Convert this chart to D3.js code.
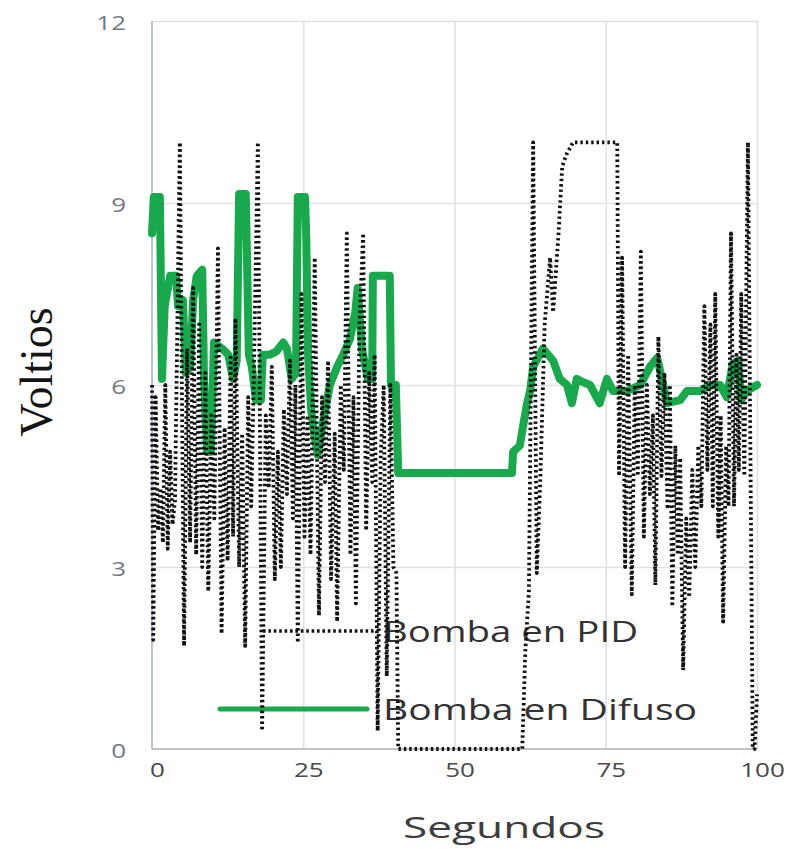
<!DOCTYPE html>
<html><head><meta charset="utf-8">
<script src="https://cdn.jsdelivr.net/npm/d3@7"></script>
<style>body{margin:0;background:#fff;} svg{display:block;}</style>
</head><body><svg id="c" width="790" height="849"></svg>
<script>
const xTicks = [0, 25, 50, 75, 100];
const yTicks = [0, 3, 6, 9, 12];
const seriesNames = ["Bomba en PID", "Bomba en Difuso"];
const xTitle = "Segundos";
const yTitle = "Voltios";

const difusoT = [0,0.3,1.3,1.65,2.1,3.0,4.0,4.3,5.1,5.6,6.3,6.8,7.4,8.3,8.6,9.1,9.75,10.25,11.6,12.6,13.4,14.0,14.4,15.5,16.0,16.5,17.2,18.0,18.3,19.5,20.5,21.7,22.3,23.1,23.8,24.1,25.3,25.5,25.8,26.3,26.8,27.4,28.3,29.4,30.6,31.6,32.7,33.6,34.0,34.7,35.7,36.4,36.5,39.3,39.5,40.3,40.7,59.5,59.7,60.8,61.3,62.0,62.5,63.0,64.6,66.3,67.4,68.6,69.4,70.2,71.2,72.4,74.0,75.2,76.2,78.5,80.7,82.3,83.5,84.5,85.1,87.3,88.4,90.6,92.2,93.9,95.0,96.0,96.9,97.4,98.3,100];
const difusoV = [8.5,9.1,9.1,6.1,7.3,7.8,7.8,7.3,7.4,6.2,6.3,7.4,7.8,7.9,6.1,4.9,4.9,6.7,6.6,6.5,6.1,6.4,9.15,9.15,6.5,6.3,5.75,5.75,6.5,6.5,6.55,6.7,6.6,6.1,6.2,9.1,9.1,8.4,6.5,5.6,5.2,4.85,5.4,6.0,6.3,6.5,6.75,7.2,7.6,6.6,6.1,6.1,7.8,7.8,6.0,6.0,4.55,4.55,4.9,5.0,5.3,5.7,5.9,6.3,6.6,6.4,6.1,6.0,5.7,6.1,6.05,6.0,5.7,6.1,5.9,5.9,6.0,6.3,6.45,6.0,5.7,5.75,5.9,5.9,6.0,6.0,5.8,6.35,6.4,5.75,5.9,6.0];

const pidT = [0,0.2,0.6,1.0,1.4,1.8,2.2,2.6,3.0,3.4,
  3.8,4.6,5.3,5.8,6.3,6.8,7.3,7.8,8.3,8.8,
  9.3,9.8,10.3,10.9,11.5,12.0,12.5,13.0,13.4,13.8,
  14.4,14.9,15.4,15.9,16.4,16.8,17.5,18.2,18.8,19.3,
  19.8,20.3,20.8,21.3,21.8,22.3,22.8,23.3,23.7,24.1,
  24.7,25.2,25.7,26.2,26.9,27.6,28.1,28.6,29.1,29.6,
  30.2,30.6,31.2,31.7,32.2,32.8,33.3,33.7,34.3,34.9,
  35.4,35.9,36.4,36.8,37.3,37.8,38.3,38.8,39.4,39.9,
  40.4,40.7,61.2,61.7,62.3,63.0,63.6,64.2,64.9,65.8,
  66.3,67.2,67.8,68.5,69.6,76.9,77.2,77.7,78.2,78.7,
  79.3,79.8,80.3,80.8,81.3,81.8,82.3,82.8,83.2,83.7,
  84.2,84.7,85.2,85.6,86.0,86.5,86.9,87.3,87.8,88.3,
  88.8,89.3,89.8,90.3,90.8,91.3,91.8,92.3,92.7,93.1,
  93.6,94.0,94.4,94.9,95.3,95.7,96.2,96.6,97.0,97.4,
  97.9,98.5,99.3,99.6,100];
const pidV = [6.0,1.8,5.8,3.6,4.3,3.4,6.0,3.3,4.9,3.7,
  4.1,10.0,1.7,6.6,3.4,7.6,3.2,7.0,3.0,6.2,
  2.6,5.5,3.8,8.25,1.9,5.3,3.1,6.5,3.5,7.1,
  3.0,5.2,1.7,5.8,4.0,6.0,10.0,0.3,5.5,4.3,
  6.3,2.8,4.9,3.0,5.6,4.2,6.4,3.8,6.0,1.75,
  7.5,3.5,5.5,3.2,8.1,2.2,5.8,4.4,6.4,2.8,
  5.2,2.1,6.0,4.6,8.5,3.2,5.8,2.4,7.0,8.5,
  3.6,6.2,4.4,6.5,0.3,4.8,6.0,1.2,6.0,3.0,
  2.9,0,0,1.6,2.6,10.0,2.9,4.5,7.0,8.1,
  7.2,8.5,9.6,9.8,10.0,10.0,4.5,8.1,3.0,6.5,
  2.55,6.0,4.5,8.2,3.5,6.0,4.2,5.5,2.7,6.8,
  4.5,6.2,4.0,6.0,2.35,5.0,3.2,4.8,1.3,3.8,
  2.5,4.6,3.0,5.0,4.0,7.3,4.6,7.0,4.0,7.5,
  3.5,5.5,2.1,5.0,4.0,8.5,4.0,6.5,4.6,7.5,
  4.5,10.0,0.0,0.0,0.9];

const GREEN = "#17a94b";
const svg = d3.select("#c");
const x = d3.scaleLinear().domain([0, 100]).range([152, 757]);
const y = d3.scaleLinear().domain([0, 12]).range([749, 21]);

function stretch(sel, f) {
  sel.each(function () {
    const w = this.getComputedTextLength();
    d3.select(this).attr("textLength", w * f).attr("lengthAdjust", "spacingAndGlyphs");
  });
}

// grid
const gx = svg.append("g").attr("transform", "translate(0,749)")
  .call(d3.axisBottom(x).tickValues(xTicks.filter(d => d > 0)).tickSize(-728).tickFormat(""));
gx.select(".domain").remove();
gx.selectAll("line").attr("stroke", "#e1e1e1").attr("stroke-width", 1.6);
const gy = svg.append("g").attr("transform", "translate(152,0)")
  .call(d3.axisLeft(y).tickValues(yTicks.filter(d => d > 0)).tickSize(-605).tickFormat(""));
gy.select(".domain").remove();
gy.selectAll("line").attr("stroke", "#e1e1e1").attr("stroke-width", 1.6);

// axes lines
svg.append("line").attr("x1", x(0)).attr("x2", x(100)).attr("y1", y(0)).attr("y2", y(0))
  .attr("stroke", "#c3c3c3").attr("stroke-width", 2);
svg.append("line").attr("x1", x(0)).attr("x2", x(0)).attr("y1", y(0)).attr("y2", y(12))
  .attr("stroke", "#bcc4d4").attr("stroke-width", 2);

// tick labels
const ax = svg.append("g").attr("transform", "translate(0,749)")
  .call(d3.axisBottom(x).tickValues(xTicks).tickSize(0).tickFormat(d3.format("d")));
ax.select(".domain").remove();
ax.selectAll("text").attr("y", 28).attr("dy", 0).attr("dx", 5)
  .attr("font-family", "Open Sans").attr("font-size", 20).attr("fill", "#4a4a4a");
stretch(ax.selectAll("text"), 1.3);

const ay = svg.append("g").attr("transform", "translate(126,0)")
  .call(d3.axisLeft(y).tickValues(yTicks).tickSize(0).tickPadding(0).tickFormat(d3.format("d")));
ay.select(".domain").remove();
ay.selectAll("text").attr("dy", 0).attr("y", 8)
  .attr("font-family", "Open Sans").attr("font-size", 20).attr("fill", "#737985");
stretch(ay.selectAll("text"), 1.3);

// axis titles
svg.append("text").attr("transform", "translate(52,372) rotate(-90)")
  .attr("text-anchor", "middle").attr("font-family", "Liberation Serif")
  .attr("font-size", 46).attr("fill", "#151515").text(yTitle);
svg.append("text").attr("x", 403).attr("y", 838)
  .attr("font-family", "Open Sans").attr("font-size", 30).attr("fill", "#3d3d3d")
  .attr("textLength", 202).attr("lengthAdjust", "spacingAndGlyphs").text(xTitle);

// legend (under the series)
const lg = svg.append("g");
lg.append("line").attr("x1", 263).attr("x2", 378).attr("y1", 631).attr("y2", 631)
  .attr("stroke", "#111").attr("stroke-width", 3.4).attr("stroke-dasharray", "2.6,2.8");
lg.append("line").attr("x1", 220).attr("x2", 367).attr("y1", 709).attr("y2", 709)
  .attr("stroke", GREEN).attr("stroke-width", 5).attr("stroke-linecap", "round");
lg.append("text").attr("x", 383).attr("y", 642).attr("font-family", "Open Sans")
  .attr("font-size", 30).attr("fill", "#333").attr("textLength", 255)
  .attr("lengthAdjust", "spacingAndGlyphs").text(seriesNames[0]);
lg.append("text").attr("x", 383).attr("y", 720).attr("font-family", "Open Sans")
  .attr("font-size", 30).attr("fill", "#333").attr("textLength", 314)
  .attr("lengthAdjust", "spacingAndGlyphs").text(seriesNames[1]);

// series
const difuso = difusoT.map((t, i) => [t, difusoV[i]]);
const pid = pidT.map((t, i) => [t, pidV[i]]);
const line = d3.line().x(d => x(d[0])).y(d => y(d[1]));

svg.append("path").datum(difuso).attr("d", line).attr("fill", "none")
  .attr("stroke", GREEN).attr("stroke-width", 8).attr("stroke-linejoin", "round")
  .attr("stroke-linecap", "round");
svg.append("path").datum(pid).attr("d", line).attr("fill", "none")
  .attr("stroke", "#111").attr("stroke-width", 3.8).attr("stroke-dasharray", "2.4,3")
  .attr("stroke-linejoin", "round");
</script></body></html>
